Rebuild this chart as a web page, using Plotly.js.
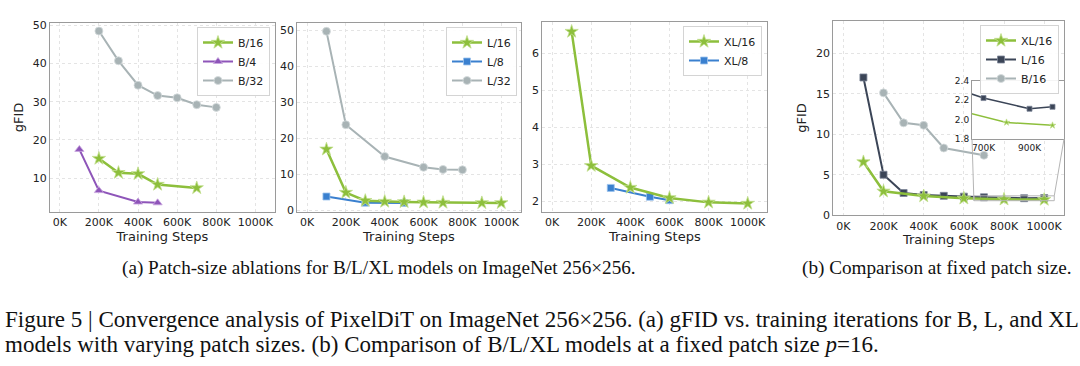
<!DOCTYPE html>
<html>
<head>
<meta charset="utf-8">
<script src="https://cdn.plot.ly/plotly-3.0.1.min.js"></script>
<style>html,body{margin:0;padding:0;background:#fff;}#chart{width:1080px;height:366px;}</style>
</head>
<body>
<div id="chart"></div>
<script>
// ---------- data ----------
const xTickVals = [0, 200, 400, 600, 800, 1000];
const xTickText = ['0K', '200K', '400K', '600K', '800K', '1000K'];

// (a) B models
const B16_steps = [200, 300, 400, 500, 700];
const B16_fid   = [15.1, 11.4, 11.1, 8.3, 7.4];
const B4_steps  = [100, 200, 400, 500];
const B4_fid    = [17.5, 6.7, 3.7, 3.5];
const B32_steps = [200, 300, 400, 500, 600, 700, 800];
const B32_fid   = [48.5, 40.7, 34.3, 31.6, 31.0, 29.2, 28.5];

// (a) L models
const L16_steps = [100, 200, 300, 400, 500, 600, 700, 900, 1000];
const L16_fid   = [17.0, 5.0, 2.75, 2.5, 2.4, 2.3, 2.22, 2.11, 2.13];
const L8_steps  = [100, 300, 500];
const L8_fid    = [3.9, 2.2, 2.1];
const L32_steps = [100, 200, 400, 600, 700, 800];
const L32_fid   = [49.7, 23.8, 15.0, 12.0, 11.4, 11.3];

// (a) XL models
const XL16_steps = [100, 200, 400, 600, 800, 1000];
const XL16_fid   = [6.58, 2.96, 2.37, 2.09, 1.97, 1.94];
const XL8_steps  = [300, 500, 600];
const XL8_fid    = [2.36, 2.12, 2.03];

const yTicks1 = [10, 20, 30, 40, 50];
const yTicks2 = [0, 10, 20, 30, 40, 50];
const yTicks3 = [2, 3, 4, 5, 6];
const yTicks4 = [0, 5, 10, 15, 20];
const insetXTicks = [700, 900];
const insetXText = ['700K', '900K'];
const insetYTicks = [1.8, 2.0, 2.2, 2.4];

const subCapA = '(a) Patch-size ablations for B/L/XL models on ImageNet 256×256.';
const subCapB = '(b) Comparison at fixed patch size.';
const figCap1 = 'Figure 5 | Convergence analysis of PixelDiT on ImageNet 256×256. (a) gFID vs. training iterations for B, L, and XL';
const figCap2 = 'models with varying patch sizes. (b) Comparison of B/L/XL models at a fixed patch size <i>p</i>=16.';

// ---------- style ----------
const GREEN = '#8dbf3c', PURPLE = '#8e55b9', GRAY = '#a8b3b5', BLUE = '#3a80cf', NAVY = '#3b4557';
const LIGHT = {'#8dbf3c':'#c3e08f', '#8e55b9':'#c9a6e0', '#a8b3b5':'#d5dcdd', '#3a80cf':'#9cc3ee', '#3b4557':'#7d8798'};
const F = 'DejaVu Sans, sans-serif';
const SERIF = 'Liberation Serif, Times New Roman, serif';

const XR = [-50, 1100];
const dom = {
  x1: [50/1080, 275/1080],   y1: [1-212/366, 1-23/366],
  x2: [297.3/1080, 520.7/1080], y2: [1-212/366, 1-22.7/366],
  x3: [542.3/1080, 767.3/1080], y3: [1-212/366, 1-22.3/366],
  x4: [833.3/1080, 1064.3/1080], y4: [1-215.3/366, 1-20.7/366],
  x5: [972/1080, 1064/1080], y5: [1-139/366, 1-80.5/366]
};
const ranges = {y1:[1.1, 50.6], y2:[-0.4, 52.1], y3:[1.71, 6.83], y4:[0, 24], x5:[650, 1050], y5:[1.8, 2.4]};

function tr(x, y, name, color, symbol, size, xa, ya, legend, rank, lw, show) {
  return {
    x: x, y: y, name: name, type: 'scatter', mode: 'lines+markers',
    xaxis: xa, yaxis: ya, legend: legend, legendrank: rank,
    showlegend: show !== false,
    line: {color: color, width: lw},
    marker: {color: color, symbol: symbol, size: size, line: {color: LIGHT[color], width: 0.8}}
  };
}

const traces = [
  // panel 1
  tr(B32_steps, B32_fid, 'B/32', GRAY, 'circle', 8, 'x', 'y', 'legend', 3, 2),
  tr(B4_steps, B4_fid, 'B/4', PURPLE, 'triangle-up', 8, 'x', 'y', 'legend', 2, 2),
  tr(B16_steps, B16_fid, 'B/16', GREEN, 'star', 10, 'x', 'y', 'legend', 1, 2.5),
  // panel 2
  tr(L32_steps, L32_fid, 'L/32', GRAY, 'circle', 8, 'x2', 'y2', 'legend2', 3, 2),
  tr(L8_steps, L8_fid, 'L/8', BLUE, 'square', 7, 'x2', 'y2', 'legend2', 2, 2),
  tr(L16_steps, L16_fid, 'L/16', GREEN, 'star', 10, 'x2', 'y2', 'legend2', 1, 2.5),
  // panel 3
  tr(XL8_steps, XL8_fid, 'XL/8', BLUE, 'square', 7, 'x3', 'y3', 'legend3', 2, 2),
  tr(XL16_steps, XL16_fid, 'XL/16', GREEN, 'star', 10, 'x3', 'y3', 'legend3', 1, 2.5),
  // panel 4
  tr(B16_steps, B16_fid, 'B/16', GRAY, 'circle', 8, 'x4', 'y4', 'legend4', 3, 2),
  tr(L16_steps, L16_fid, 'L/16', NAVY, 'square', 7, 'x4', 'y4', 'legend4', 2, 2),
  tr(XL16_steps, XL16_fid, 'XL/16', GREEN, 'star', 10, 'x4', 'y4', 'legend4', 1, 2.5),
  // inset
  tr(L16_steps, L16_fid, 'L/16', NAVY, 'square', 5, 'x5', 'y5', 'legend4', 9, 1.5, false),
  tr(XL16_steps, XL16_fid, 'XL/16', GREEN, 'star', 5, 'x5', 'y5', 'legend4', 9, 1.5, false)
];

function axis(domain, range, anchor, extra) {
  return Object.assign({
    domain: domain, range: range, anchor: anchor, autorange: false,
    showline: true, mirror: true, linecolor: '#9a9a9a', linewidth: 1,
    showgrid: true, gridcolor: '#e4e4e4', griddash: 'dot', gridwidth: 1,
    zeroline: false, ticks: '', tickfont: {family: F, size: 11, color: '#222'}
  }, extra || {});
}
function xmain(d, anchor) {
  return axis(d, XR, anchor, {tickmode: 'array', tickvals: xTickVals, ticktext: xTickText,
    title: {text: 'Training Steps', font: {family: F, size: 13, color: '#222'}, standoff: 0}});
}
const yTitle = {text: 'gFID', font: {family: F, size: 13, color: '#222'}, standoff: 6};

function legend(xRight, yTop) {
  return {x: xRight/1080, y: 1 - yTop/366, xanchor: 'right', yanchor: 'top', xref: 'paper', yref: 'paper',
    bgcolor: 'rgba(255,255,255,0.9)', bordercolor: '#d4d4d4', borderwidth: 1,
    font: {family: F, size: 11, color: '#222'}, tracegroupgap: 0, itemwidth: 30};
}

// paper coordinate of a data value on an axis
function toPaper(v, d, r) { return d[0] + (v - r[0]) / (r[1] - r[0]) * (d[1] - d[0]); }

const rx0 = ranges.x5[0], rx1 = ranges.x5[1], ry0 = ranges.y5[0], ry1 = ranges.y5[1];
const shapes = [
  {type: 'rect', xref: 'x4', yref: 'y4', x0: rx0, x1: rx1, y0: ry0, y1: ry1,
   line: {color: '#b5b5b5', width: 1}, fillcolor: 'rgba(0,0,0,0)', layer: 'above'},
  {type: 'line', xref: 'paper', yref: 'paper',
   x0: toPaper(rx0, dom.x4, XR), y0: toPaper(ry0, dom.y4, ranges.y4),
   x1: dom.x5[0], y1: dom.y5[0], line: {color: '#b5b5b5', width: 1}, layer: 'above'},
  {type: 'line', xref: 'paper', yref: 'paper',
   x0: toPaper(rx1, dom.x4, XR), y0: toPaper(ry1, dom.y4, ranges.y4),
   x1: dom.x5[1], y1: dom.y5[0], line: {color: '#b5b5b5', width: 1}, layer: 'above'}
];

const annotations = [
  {text: subCapA, xref: 'paper', yref: 'paper', x: 379/1080, y: 1 - 268/366, xanchor: 'center', yanchor: 'middle',
   showarrow: false, font: {family: SERIF, size: 19.2, color: '#111'}},
  {text: subCapB, xref: 'paper', yref: 'paper', x: 937/1080, y: 1 - 268/366, xanchor: 'center', yanchor: 'middle',
   showarrow: false, font: {family: SERIF, size: 19.2, color: '#111'}},
  {text: figCap1, xref: 'paper', yref: 'paper', x: 3/1080, y: 1 - 319/366, xanchor: 'left', yanchor: 'middle',
   showarrow: false, align: 'left', font: {family: SERIF, size: 23, color: '#111'}},
  {text: figCap2, xref: 'paper', yref: 'paper', x: 3/1080, y: 1 - 344/366, xanchor: 'left', yanchor: 'middle',
   showarrow: false, align: 'left', font: {family: SERIF, size: 23, color: '#111'}}
];

const layout = {
  width: 1080, height: 366, margin: {l: 0, r: 0, t: 0, b: 0},
  paper_bgcolor: '#fff', plot_bgcolor: '#fff',
  xaxis: xmain(dom.x1, 'y'),
  yaxis: axis(dom.y1, ranges.y1, 'x', {tickmode: 'array', tickvals: yTicks1, title: yTitle}),
  xaxis2: xmain(dom.x2, 'y2'),
  yaxis2: axis(dom.y2, ranges.y2, 'x2', {tickmode: 'array', tickvals: yTicks2}),
  xaxis3: xmain(dom.x3, 'y3'),
  yaxis3: axis(dom.y3, ranges.y3, 'x3', {tickmode: 'array', tickvals: yTicks3}),
  xaxis4: xmain(dom.x4, 'y4'),
  yaxis4: axis(dom.y4, ranges.y4, 'x4', {tickmode: 'array', tickvals: yTicks4, title: yTitle}),
  xaxis5: axis(dom.x5, ranges.x5, 'y5', {tickmode: 'array', tickvals: insetXTicks, ticktext: insetXText,
    showgrid: false, tickfont: {family: F, size: 9, color: '#222'}}),
  yaxis5: axis(dom.y5, ranges.y5, 'x5', {tickmode: 'array', tickvals: insetYTicks, tickformat: '.1f',
    showgrid: false, tickfont: {family: F, size: 9, color: '#222'}}),
  legend: legend(270, 27),
  legend2: legend(517, 27),
  legend3: legend(762, 26),
  legend4: legend(1059, 25),
  shapes: shapes,
  annotations: annotations
};

Plotly.newPlot('chart', traces, layout, {staticPlot: true, displayModeBar: false});
</script>
</body>
</html>
